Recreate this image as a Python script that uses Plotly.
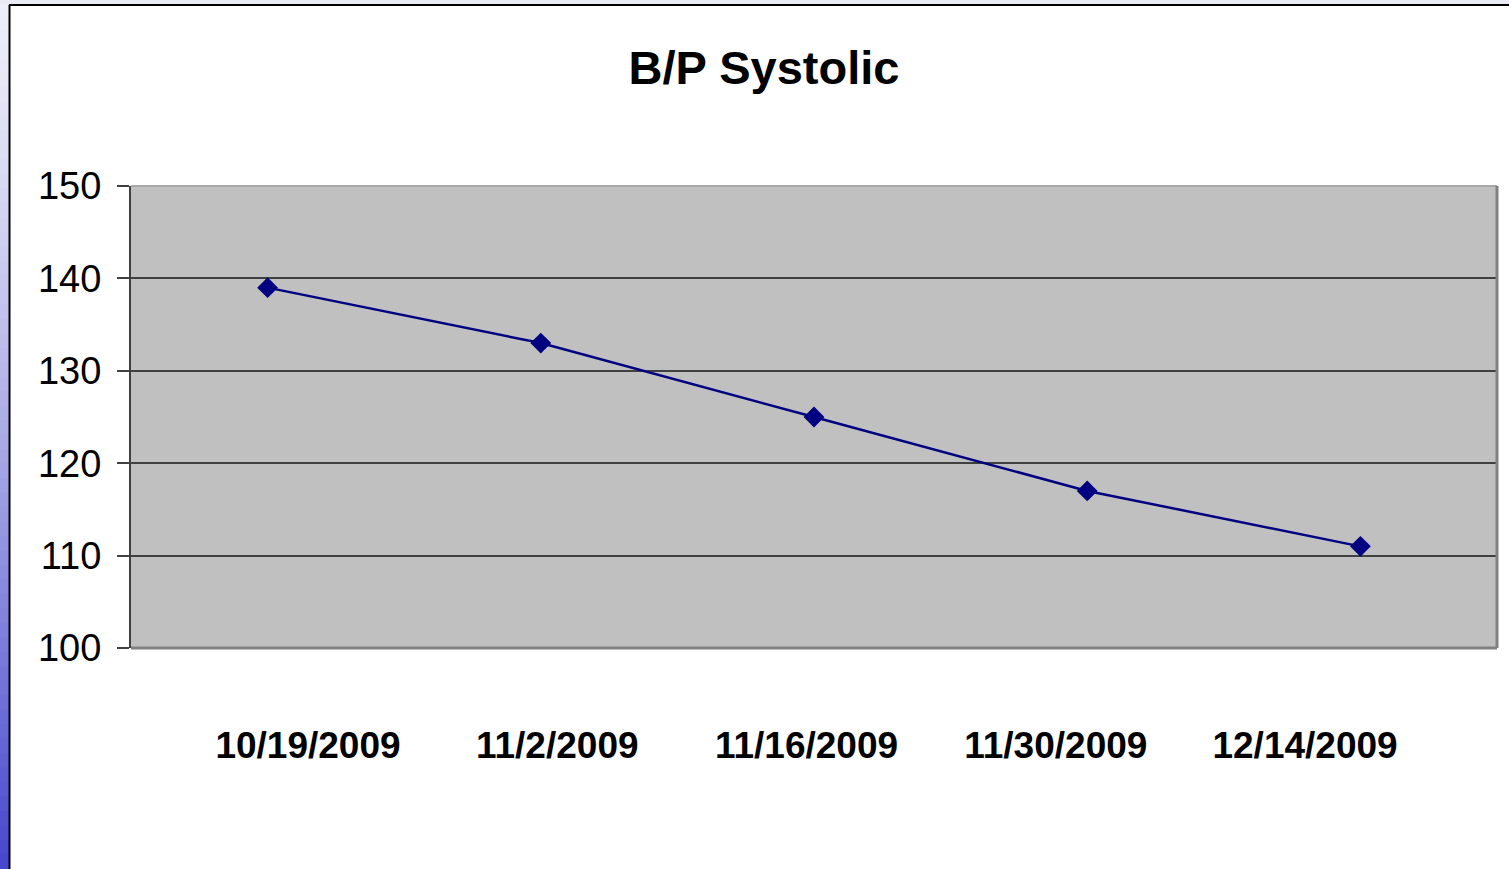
import plotly.graph_objects as go

dates = ["10/19/2009", "11/2/2009", "11/16/2009", "11/30/2009", "12/14/2009"]
systolic = [139, 133, 125, 117, 111]
y_ticks = [100, 110, 120, 130, 140, 150]

idx = list(range(len(dates)))
FONT = "Arial, 'Liberation Sans', sans-serif"

fig = go.Figure()
fig.add_trace(go.Scatter(
    x=idx, y=systolic, mode="lines+markers",
    line=dict(color="#000080", width=2.5),
    marker=dict(symbol="diamond", size=16, color="#000080"),
    hoverinfo="y", showlegend=False,
))
# invisible trace to carry the category label axis
fig.add_trace(go.Scatter(
    x=idx, y=systolic, xaxis="x2", mode="markers",
    marker=dict(opacity=0), hoverinfo="skip", showlegend=False,
))

shapes = []
n = 60
W, H = 1509, 869
L, R, T, B = 131, 12, 186, 221
pw, ph = W - L - R, H - T - B
def px_x(p):
    return (p - L) / pw
def px_y(p):
    return 1 - (p - T) / ph
c0 = (238, 238, 248)
c1 = (72, 72, 206)
for i in range(n):
    t = i / (n - 1)
    col = tuple(int(c0[k] + (c1[k] - c0[k]) * t ** 1.3) for k in range(3))
    y0 = i * H / n
    y1 = (i + 1) * H / n + 1
    shapes.append(dict(type="rect", xref="paper", yref="paper",
                       x0=px_x(0), x1=px_x(9), y0=px_y(y1), y1=px_y(y0),
                       fillcolor="rgb(%d,%d,%d)" % col, line=dict(width=0), layer="below"))
shapes.append(dict(type="rect", xref="paper", yref="paper",
                   x0=px_x(0), x1=px_x(W), y0=px_y(4), y1=px_y(0),
                   fillcolor="#EAEAF4", line=dict(width=0), layer="below"))
shapes.append(dict(type="line", xref="paper", yref="paper",
                   x0=px_x(9), x1=px_x(W), y0=px_y(5), y1=px_y(5),
                   line=dict(color="black", width=2)))
shapes.append(dict(type="line", xref="paper", yref="paper",
                   x0=px_x(9.5), x1=px_x(9.5), y0=px_y(5), y1=px_y(H),
                   line=dict(color="black", width=2)))
shapes.append(dict(type="line", xref="paper", yref="paper", x0=0, x1=1, y0=1, y1=1,
                   line=dict(color="#A8A8A8", width=2)))
shapes.append(dict(type="line", xref="paper", yref="paper", x0=1, x1=1, y0=0, y1=1,
                   line=dict(color="#808080", width=3)))
shapes.append(dict(type="line", xref="paper", yref="paper", x0=0, x1=1, y0=0, y1=0,
                   line=dict(color="#808080", width=3)))

fig.update_layout(
    width=W, height=H,
    margin=dict(l=L, r=R, t=T, b=B, pad=0),
    paper_bgcolor="white",
    plot_bgcolor="#C0C0C0",
    title=dict(text="<b>B/P Systolic</b>", x=764 / W, xanchor="center",
               y=1 - 68 / H, yanchor="middle",
               font=dict(family=FONT, size=47, color="black")),
    xaxis=dict(range=[-0.5, len(dates) - 0.5], showticklabels=False, showgrid=False,
               zeroline=False, showline=False, ticks=""),
    xaxis2=dict(overlaying="x", anchor="y", side="bottom",
                range=[-0.71, 4.77], tickvals=idx, ticktext=dates,
                showgrid=False, zeroline=False, showline=False, ticks="",
                tickfont=dict(family=FONT, size=37, color="black", weight="bold"),
                ticklabelstandoff=72),
    yaxis=dict(range=[100, 150], tickvals=y_ticks, showgrid=True,
               gridcolor="#404040", gridwidth=1.5, zeroline=False,
               showline=True, linecolor="#404040", linewidth=2,
               ticks="outside", ticklen=12, tickcolor="#404040", tickwidth=1.5,
               tickfont=dict(family=FONT, size=38, color="black"),
               ticklabelstandoff=8),
    shapes=shapes,
)

fig.write_html("out.html", config={"displayModeBar": False},
               post_script="document.body.style.margin='0';document.body.style.overflow='hidden';")
